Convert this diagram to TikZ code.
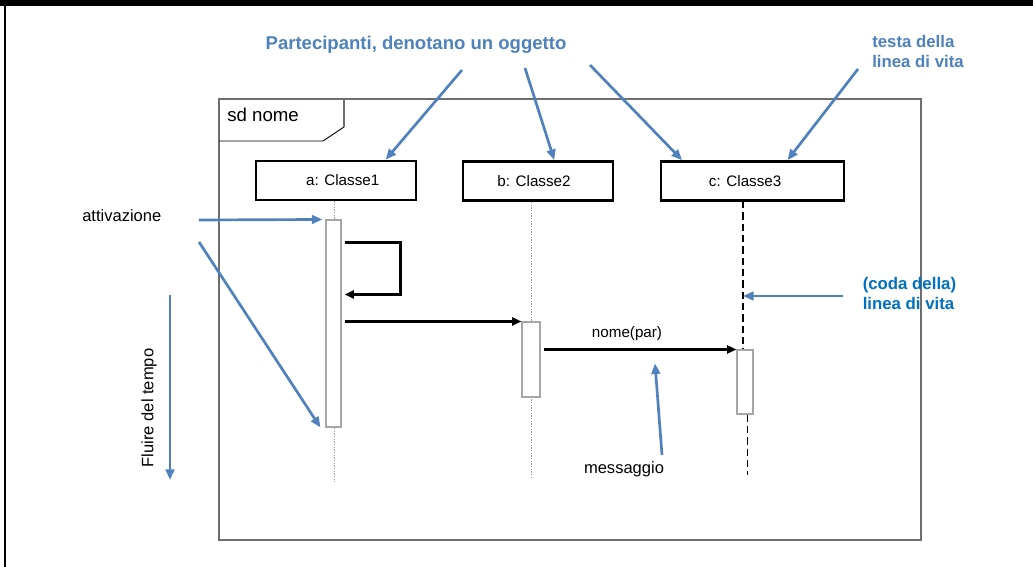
\documentclass[tikz,border=0pt]{standalone}
\usepackage{fontspec}
\setmainfont{Liberation Sans}
\usetikzlibrary{arrows.meta,calc}
\definecolor{annot}{HTML}{4F81BD}
\definecolor{annotdark}{HTML}{0070C0}
\definecolor{framegray}{HTML}{6E6E6E}
\definecolor{actgray}{HTML}{A6A6A6}
\definecolor{lifegray}{HTML}{9A9A9A}
\begin{document}
\begin{tikzpicture}[x=0.75pt,y=-0.75pt,
  objbox/.style={draw=black, line width=1.8pt, minimum width=#1, minimum height=29.5pt,
    inner sep=0pt, font=\fontsize{11.4pt}{13pt}\selectfont},
  actbox/.style={draw=actgray, fill=white, line width=0.8pt, inner sep=0pt},
  lifedot/.style={draw=lifegray, line width=0.6pt, dash pattern=on 1pt off 1pt},
  lifedash/.style={draw=black, line width=1.1pt, dash pattern=on 5.5pt off 3pt},
  msgarrow/.style={line width=1.6pt, -{Triangle[length=7pt,width=6pt]}},
  notearrow/.style={draw=annot, line width=2pt, -{Triangle[length=8pt,width=6.5pt]}},
  plain/.style={inner sep=0pt, font=\fontsize{12.4pt}{15pt}\selectfont},
  bluetitle/.style={inner sep=0pt, text=annot, font=\fontsize{13.9pt}{16pt}\selectfont\bfseries},
  bluenote/.style={inner sep=0pt, align=left, font=\fontsize{12.6pt}{15pt}\selectfont\bfseries},
]
% page and its black top and left edges
\fill[white] (0,0) rectangle (1033,567);
\useasboundingbox (0,0) rectangle (1033,567);
\fill[black] (0,0) rectangle (1033,6);
\fill[black] (3.5,0) rectangle (6,567);

% sequence diagram frame with its name tab
\draw[framegray, line width=1pt] (219,99) rectangle (921,540);
\draw[black, line width=0.7pt] (219,141) -- (323,141) -- (344,127);
\draw[framegray, line width=0.9pt] (344,127) -- (344,99);
\node[anchor=west, inner sep=0pt, font=\fontsize{14pt}{16pt}\selectfont] (sd) at (227,115) {sd nome};

% participants
\node[objbox=120pt]    (a) at (336,180.5) {\hspace*{10pt}a: Classe1};
\node[objbox=112.5pt]  (b) at (538,181)   {\hspace*{-6pt}b: Classe2};
\node[objbox=137.25pt] (c) at (752.5,181) {\hspace*{-11pt}c: Classe3};

% lifeline ends
\coordinate (aend) at (334,482);
\coordinate (bend) at (531,479);
\coordinate (ctop) at (743,201);
\coordinate (cend) at (747.5,475);

\draw[lifedot] (aend |- a.south) -- (aend);
\draw[lifedot] (bend |- b.south) -- (bend);

% activation bars
\node[actbox, minimum width=11.25pt, minimum height=155.25pt] (acta) at (333.5,323.5) {};
\node[actbox, minimum width=13.5pt,  minimum height=56.25pt]  (actb) at (531,359.5) {};
\node[actbox, minimum width=12pt,    minimum height=48pt]     (actc) at (745,382) {};

\draw[lifedash] (ctop) -- (ctop |- actc.north);
\draw[lifedash] (cend |- actc.south) -- (cend);

% messages
\coordinate (self0) at ($(acta.north east)+(3,23)$);
\coordinate (self1) at ($(acta.north east)+(3,75)$);
\draw[msgarrow] (self0) -- ++(56,0) |- (self1);
\draw[msgarrow] ($(acta.north east)+(3,102)$) -- (actb.north west);
\draw[msgarrow] ($(actb.north east)+(3,28)$) -- (actc.north west);
\node[inner sep=0pt, font=\fontsize{11.4pt}{13pt}\selectfont] (call) at (627,334) {nome(par)};

% annotations
\node[bluetitle] (part) at (416,45) {Partecipanti, denotano un oggetto};
\coordinate (p1) at (462,70);
\coordinate (p2) at (525,68);
\coordinate (p3) at (590,65);
\draw[notearrow] (p1) -- ($(a.north west)!0.806!(a.north east)$);
\draw[notearrow] (p2) -- ($(b.north west)!0.607!(b.north east)$);
\draw[notearrow] (p3) -- ($(c.north west)!0.12!(c.north east)$);

\node[bluenote, text=annot, anchor=west] (head) at (872,51) {testa della\\linea di vita};
\coordinate (h1) at (858,69);
\draw[notearrow] (h1) -- ($(c.north west)!0.689!(c.north east)$);

\node[bluenote, text=annotdark, anchor=west] (tail) at (862.5,293) {(coda della)\\linea di vita};
\coordinate (t1) at (843,296);
\draw[notearrow] (t1) -- (ctop |- t1);

\node[plain, anchor=west] (act) at (82,216) {attivazione};
\coordinate (v1) at (199,220);
\coordinate (v2) at (199,242);
\draw[notearrow] (v1) -- ($(acta.north west)+(-3,0)$);
\draw[notearrow] (v2) -- ($(acta.south west)+(-5,0)$);

\node[plain, rotate=90] (time) at (149,408) {Fluire del tempo};
\coordinate (f0) at (170,295);
\coordinate (f1) at (170,480);
\draw[notearrow] (f0) -- (f1);

\node[plain] (msgl) at (624,469) {messaggio};
\coordinate (m0) at (662,455);
\draw[notearrow] (m0) -- ($(call.south)+(28,22)$);
\end{tikzpicture}
\end{document}
